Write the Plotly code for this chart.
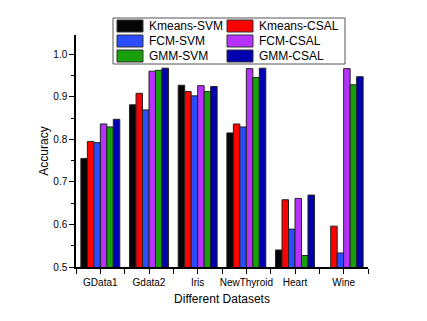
import plotly.graph_objects as go

# データ
datasets = ["GData1", "Gdata2", "Iris", "NewThyroid", "Heart", "Wine"]
methods = ["Kmeans-SVM", "Kmeans-CSAL", "FCM-SVM", "FCM-CSAL", "GMM-SVM", "GMM-CSAL"]
colors = ["#050505", "#ff0000", "#2b4cff", "#b832ff", "#17a00c", "#0000b0"]

kmeans_svm = [0.755, 0.881, 0.927, 0.815, 0.540, 0.45]
kmeans_csal = [0.795, 0.908, 0.912, 0.836, 0.658, 0.596]
fcm_svm = [0.792, 0.869, 0.902, 0.829, 0.589, 0.533]
fcm_csal = [0.836, 0.960, 0.926, 0.966, 0.661, 0.966]
gmm_svm = [0.829, 0.962, 0.912, 0.945, 0.527, 0.928]
gmm_csal = [0.847, 0.967, 0.924, 0.967, 0.669, 0.947]

values = [kmeans_svm, kmeans_csal, fcm_svm, fcm_csal, gmm_svm, gmm_csal]
xpos = list(range(len(datasets)))

# 描画領域 (px)
L, T, PW, PH = 68, 27, 292, 232

def px_x(x):
    return (x - L) / PW

def px_y(y):
    return (T + PH - y) / PH

fig = go.Figure()
for name, col, vals in zip(methods, colors, values):
    fig.add_trace(go.Bar(x=xpos, y=vals, name=name,
                         marker=dict(color=col, line=dict(color="#222222", width=1))))

# 凡例 (2列)
fig.add_shape(type="rect", xref="paper", yref="paper",
              x0=px_x(105), x1=px_x(337), y0=px_y(56), y1=px_y(10),
              line=dict(color="#555555", width=1), fillcolor="white", layer="above")
for i, (name, col) in enumerate(zip(methods, colors)):
    sx = 109 + (i % 2) * 110
    sy = 12 + (i // 2) * 15
    fig.add_shape(type="rect", xref="paper", yref="paper",
                  x0=px_x(sx), x1=px_x(sx + 26), y0=px_y(sy + 12), y1=px_y(sy),
                  line=dict(color="#333333", width=1), fillcolor=col, layer="above")
    fig.add_annotation(xref="paper", yref="paper", x=px_x(sx + 30), y=px_y(sy + 6),
                       text=name, showarrow=False, xanchor="left", yanchor="middle",
                       font=dict(size=12, color="black"))

# ページ余白8pxぶん左上にずらす
fig.update_layout(
    barmode='group',
    bargap=0.2,
    bargroupgap=0,
    showlegend=False,
    width=427, height=321,
    margin=dict(l=L, r=427 - L - PW, t=T, b=321 - T - PH, autoexpand=False),
    plot_bgcolor='white',
    paper_bgcolor='white',
    font=dict(family="Liberation Sans, Arial", size=10, color="black"),
    xaxis=dict(title=dict(text="Different Datasets", font=dict(size=12), standoff=8),
               range=[-0.5, 5.5], tickvals=xpos, ticktext=datasets,
               showline=True, linecolor="black", linewidth=1.5,
               ticks='outside', ticklen=5, tickcolor="black",
               minor=dict(dtick=0.5, tick0=0.5, ticks='outside', ticklen=5, tickcolor="black"),
               showgrid=False, zeroline=False),
    yaxis=dict(title=dict(text="Accuracy", font=dict(size=12), standoff=2),
               range=[0.5, 1.045], dtick=0.1, tick0=0.5, tickformat='.1f',
               showline=True, linecolor="black", linewidth=1.5,
               ticks='outside', ticklen=5, tickcolor="black",
               minor=dict(dtick=0.05, ticks='outside', ticklen=3, tickcolor="black"),
               showgrid=False, zeroline=False),
)

fig.write_html("out.html")
